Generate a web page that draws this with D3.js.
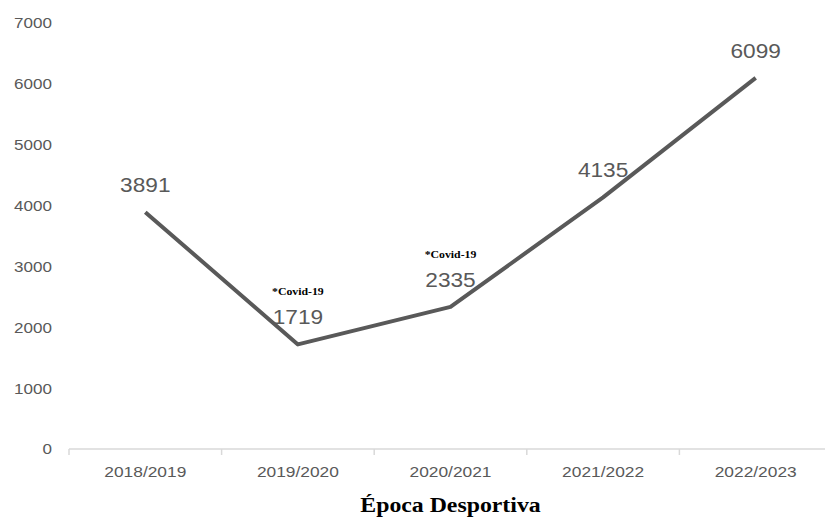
<!DOCTYPE html>
<html>
<head>
<meta charset="utf-8">
<script src="https://cdn.jsdelivr.net/npm/d3@7"></script>
<style>
  body { margin: 0; background: #fff; }
</style>
</head>
<body>
<div id="chart"></div>
<script>
const seasons = ['2018/2019', '2019/2020', '2020/2021', '2021/2022', '2022/2023'];
const athletes = [3891, 1719, 2335, 4135, 6099];
const notes = ['', '*Covid-19', '*Covid-19', '', ''];
const yTicks = [0, 1000, 2000, 3000, 4000, 5000, 6000, 7000];
const xTitle = 'Época Desportiva';

const totalW = 825, totalH = 518;
const margin = {top: 23, right: -7, bottom: 69, left: 69};
const W = totalW - margin.left - margin.right;
const H = totalH - margin.top - margin.bottom;
const grey = '#595959';
const sans = 'Liberation Sans, Arial, sans-serif';
const serif = 'Liberation Serif, Times New Roman, serif';

const svg = d3.select('#chart').append('svg')
  .attr('width', totalW)
  .attr('height', totalH)
  .append('g')
    .attr('transform', 'translate(' + margin.left + ' ' + margin.top + ')');

const x = d3.scaleBand().domain(seasons).range([0, W]);
const y = d3.scaleLinear().domain([0, 7000]).range([H, 0]);
const cx = i => x(seasons[i]) + x.bandwidth() / 2;

// the source picture is a bit wider than tall, so text is stretched sideways
function place(sel, fx, fy, sx) {
  sel.attr('transform', (d, i) => 'translate(' + fx(d, i) + ' ' + fy(d, i) + ') scale(' + sx + ' 1)');
}

// y labels, no axis line
svg.append('g').selectAll('text')
  .data(yTicks)
  .join('text')
    .call(place, () => -17, d => y(d), 1.1)
    .attr('dy', '0.35em')
    .attr('text-anchor', 'end')
    .attr('font-family', sans)
    .attr('font-size', '15.5px')
    .attr('fill', grey)
    .text(d => d);

// x axis
const xAxis = svg.append('g')
  .attr('transform', 'translate(0 ' + H + ')');
xAxis.append('line')
  .attr('x1', 0).attr('x2', W)
  .attr('stroke', '#d9d9d9').attr('stroke-width', 1.5);
xAxis.selectAll('.tick')
  .data(seasons.concat([null]))
  .join('line')
    .attr('x1', (d, i) => i * x.step())
    .attr('x2', (d, i) => i * x.step())
    .attr('y1', 0).attr('y2', 6)
    .attr('stroke', '#d9d9d9').attr('stroke-width', 1.5);
xAxis.selectAll('text')
  .data(seasons)
  .join('text')
    .call(place, (d, i) => cx(i), () => 28, 1.12)
    .attr('text-anchor', 'middle')
    .attr('font-family', sans)
    .attr('font-size', '15.5px')
    .attr('fill', grey)
    .text(d => d);

svg.append('text')
  .datum(xTitle)
  .call(place, () => cx(2), () => H + 63, 1.19)
  .attr('text-anchor', 'middle')
  .attr('font-family', serif)
  .attr('font-weight', 'bold')
  .attr('font-size', '20px')
  .attr('fill', '#000')
  .text(d => d);

// line
const line = d3.line()
  .x((d, i) => cx(i))
  .y(d => y(d));
svg.append('path')
  .datum(athletes)
  .attr('d', line)
  .attr('fill', 'none')
  .attr('stroke', grey)
  .attr('stroke-width', 4)
  .attr('stroke-linejoin', 'round');

// value labels (offsets)
svg.append('g').selectAll('text')
  .data(athletes)
  .join('text')
    .call(place, (d, i) => cx(i), d => y(d) - 20, 1.08)
    .attr('text-anchor', 'middle')
    .attr('font-family', sans)
    .attr('font-size', '21px')
    .attr('fill', grey)
    .text(d => d);

svg.append('g').selectAll('text')
  .data(athletes.map((v, i) => ({v, i, note: notes[i]})).filter(d => d.note))
  .join('text')
    .call(place, d => cx(d.i), d => y(d.v) - 49, 1.18)
    .attr('text-anchor', 'middle')
    .attr('font-family', serif)
    .attr('font-weight', 'bold')
    .attr('font-size', '10px')
    .attr('fill', '#000')
    .text(d => d.note);
</script>
</body>
</html>
